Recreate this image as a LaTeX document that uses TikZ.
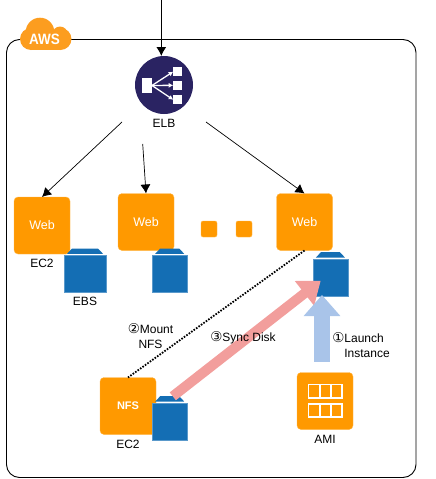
\documentclass[tikz,border=0pt]{standalone}
\usepackage{fontspec}
\setmainfont{Liberation Sans}
\newfontfamily\circfont{DejaVu Sans}
\newcommand{\circnum}[1]{{\circfont\fontsize{13.5}{15}\selectfont #1}}
\usepackage{xcolor}
\usepackage{tikz}
\usetikzlibrary{positioning, arrows.meta}

\definecolor{awsorange}{HTML}{FF9900}
\definecolor{cloudorange}{HTML}{FC9D1F}
\definecolor{diskblue}{HTML}{146EB4}
\definecolor{elbnavy}{HTML}{2A2362}
\definecolor{syncpink}{HTML}{F29E9C}
\definecolor{launchblue}{HTML}{A9C4E9}

\tikzset{
  every node/.style={font=\fontsize{12}{15}\selectfont, inner sep=0pt, outer sep=0pt},
  server/.style={fill=awsorange, draw=awsorange!70!white, line width=.4pt, rounded corners=4pt, minimum width=56pt, minimum height=57pt, text=white, font=\fontsize{12.5}{15}\selectfont},
  dot/.style={fill=awsorange, draw=awsorange!70!white, line width=.4pt, rounded corners=2pt, minimum size=16pt},
  disk/.style={fill=diskblue, draw=diskblue!70!white, line width=.4pt, minimum height=37pt},
  disklid/.style={fill=diskblue},
  conn/.style={-{Latex[length=9pt,width=10pt]}, line width=.7pt},
  port/.style={fill=white, minimum width=9pt, minimum height=9.5pt},
  fan/.style={white, line width=1.3pt, -{Latex[length=4.5pt,width=5pt]}},
}

\begin{document}
\begin{tikzpicture}[x=1pt,y=-1pt,on grid]
  \useasboundingbox (0,0) rectangle (436,479);

  % frame and cloud
  \draw[line width=.9pt, rounded corners=13pt] (6.5,39.5) rectangle (416,477.5);
  \fill[cloudorange] (40,32) circle (14.3);
  \fill[cloudorange] (60,34) circle (7.5);
  \fill[cloudorange] (31,39) circle (11);
  \fill[cloudorange] (60.5,39) circle (11);
  \fill[cloudorange] (31,35) rectangle (60.5,50);
  \node[text=white, font=\fontsize{15}{15}\bfseries\selectfont, xscale=.9] (aws) at (44.5,39) {AWS};

  % balancer
  \node[circle, fill=elbnavy, minimum size=58pt] (elb) at (164,85) {};
  \node[fill=white, minimum width=10pt, minimum height=14.5pt] (lbin) at (147,85.5) {};
  \node[port] (lba) at (177.7,71.7) {};
  \node[port] (lbb) at (177.7,85.3) {};
  \node[port] (lbc) at (177.7,99.7) {};
  \foreach \p in {lba,lbb,lbc}
    \draw[fan] (lbin.east) -- (\p.west);
  \node (elblabel) [below=38pt of elb] {ELB};

  % servers
  \node[server] (weba) at (42,225.5) {Web};
  \node[server] (webb) at (146,222) {Web};
  \node[server] (webc) [right=158.5pt of webb] {Web};
  \node[server] (nfs) at (128,406) {\fontsize{11}{11}\bfseries NFS};
  \node[server] (ami) at (325,401) {};
  \node[dot] (dota) at (209,229) {};
  \node[dot] (dotb) [right=35pt of dota] {};

  % image icon
  \foreach \r in {384.5,403.8} {
    \draw[white, line width=1.8pt] (308.5,\r) rectangle (342,\r+13.5);
    \foreach \c in {319.7,330.8}
      \draw[white, line width=1.8pt] (\c,\r) -- (\c,\r+13.5);
  }

  % disks
  \node[disk, minimum width=42pt] (ebsa) at (85,274) {};
  \node[disk, minimum width=35pt] (ebsb) at (169.7,274) {};
  \node[disk, minimum width=35pt] (ebsc) at (330.4,277.7) {};
  \node[disk, minimum width=35pt] (ebsd) at (169.7,421.7) {};
  \foreach \d in {ebsa,ebsb,ebsc,ebsd}
    \fill[disklid] ([xshift=3pt,yshift=1.7pt]\d.north west) -- ([xshift=8pt,yshift=7pt]\d.north west)
      -- ([xshift=-8pt,yshift=7pt]\d.north east) -- ([xshift=-3pt,yshift=1.7pt]\d.north east) -- cycle;

  % connectors
  \coordinate (entry) at (161.3,0);
  \coordinate (elbl) at (122,122);
  \coordinate (elbm) at (142.7,144);
  \coordinate (elbr) at (206,122);
  \draw[conn, line width=1pt] (entry) -- (161.3,56);
  \draw[conn] (elbl) -- (weba.north);
  \draw[conn] (elbm) -- (webb.north);
  \draw[conn] (elbr) -- (webc.north);
  \draw[line width=1.8pt, dash pattern=on 1.6pt off 1.4pt] (webc.south) -- (nfs.north);

  % block arrows
  \coordinate (synctail) at (172.8,396.3);
  \coordinate (synctip) at (320.7,280.7);
  \coordinate (launchtail) at (322,361.7);
  \coordinate (launchtip) at (322,295);
  \draw[syncpink, line width=10pt, -{Triangle[length=20.6pt,width=30pt]}] (synctail) -- (synctip);
  \draw[launchblue, line width=16pt, -{Triangle[length=21pt,width=35.4pt]}] (launchtail) -- (launchtip);

  % labels
  \node (ec2a) [below=38pt of weba] {EC2};
  \node (ebslabel) [below=27.5pt of ebsa] {EBS};
  \node (ec2b) [below=38.3pt of nfs] {EC2};
  \node (amilabel) [below=38.3pt of ami] {AMI};
  \node[align=center] (mount) at (150.5,335.8) {\circnum{②}Mount\\NFS};
  \node (sync) at (243,337.3) {\circnum{③}Sync Disk};
  \node[align=left] (launch) at (361,345) {\circnum{①}Launch\\\hspace*{12pt}Instance};
\end{tikzpicture}
\end{document}
